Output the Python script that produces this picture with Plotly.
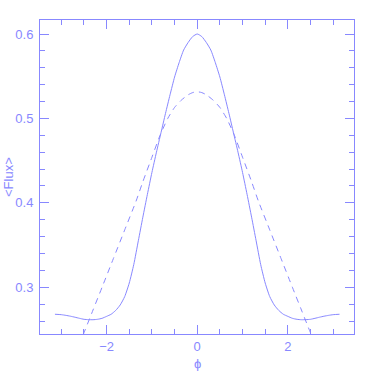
import plotly.graph_objects as go

# solid curve
phi_solid = [-3.14, -3.0, -2.9, -2.8, -2.7, -2.6, -2.5, -2.4, -2.3, -2.2, -2.1, -2.0,
             -1.9, -1.8, -1.7, -1.6, -1.5, -1.4, -1.3, -1.2, -1.1, -1.0, -0.9, -0.8,
             -0.7, -0.6, -0.5, -0.4, -0.3, -0.2, -0.1,
             0.0, 0.1, 0.2, 0.3, 0.4, 0.5, 0.6, 0.7, 0.8, 0.9, 1.0, 1.1, 1.2,
             1.3, 1.4, 1.5, 1.6, 1.7, 1.8, 1.9, 2.0, 2.1, 2.2, 2.3, 2.4, 2.5,
             2.6, 2.7, 2.8, 2.9, 3.0, 3.14]
flux_solid = [0.268, 0.2675, 0.2667, 0.2657, 0.2645, 0.2632, 0.262, 0.2616, 0.2615, 0.262, 0.2632, 0.2655,
              0.268, 0.2725, 0.279, 0.289, 0.305, 0.327, 0.355, 0.383, 0.410, 0.436, 0.460, 0.483,
              0.506, 0.528, 0.549, 0.566, 0.581, 0.590, 0.597,
              0.600, 0.597, 0.590, 0.581, 0.566, 0.549, 0.528, 0.506, 0.483, 0.460, 0.436, 0.410, 0.383,
              0.355, 0.327, 0.305, 0.289, 0.279, 0.2725, 0.268, 0.2655, 0.2632, 0.262, 0.2615, 0.2616, 0.262,
              0.2632, 0.2645, 0.2657, 0.2667, 0.2675, 0.268]

# dashed curve
phi_dashed = [-2.7, -2.5, -2.3, -2.1, -1.85, -1.6, -1.35, -1.2, -1.0, -0.82, -0.65, -0.5,
              -0.35, -0.2, -0.1, 0.0, 0.1, 0.2, 0.35, 0.5, 0.65, 0.82, 1.0, 1.2,
              1.35, 1.6, 1.85, 2.1, 2.3, 2.5, 2.7]
flux_dashed = [0.220, 0.246, 0.273, 0.300, 0.334, 0.368, 0.402, 0.425, 0.454, 0.480, 0.500, 0.513,
               0.5217, 0.528, 0.5306, 0.5316, 0.5306, 0.528, 0.5217, 0.513, 0.500, 0.480, 0.454, 0.425,
               0.402, 0.368, 0.334, 0.300, 0.273, 0.246, 0.220]

col = '#8888ff'
font = dict(family='Liberation Sans', size=13, color=col)

fig = go.Figure()
fig.add_trace(go.Scatter(x=phi_solid, y=flux_solid, mode='lines',
                         line=dict(color=col, width=1, shape='spline', smoothing=0.6)))
fig.add_trace(go.Scatter(x=phi_dashed, y=flux_dashed, mode='lines',
                         line=dict(color=col, width=1, dash='6px,5px', shape='spline', smoothing=0.6)))

axis_common = dict(
    showgrid=False, zeroline=False, showline=True, linecolor=col, linewidth=1,
    mirror='allticks', ticks='inside', tickcolor=col, ticklen=9, tickwidth=1,
    tickfont=font, automargin=False,
)
fig.update_xaxes(range=[-3.47, 3.46], dtick=2, tick0=0,
                 minor=dict(dtick=0.5, ticks='inside', ticklen=5, tickcolor=col),
                 **axis_common)
fig.update_yaxes(range=[0.2446, 0.6166], dtick=0.1, tick0=0, ticklabelstandoff=3,
                 minor=dict(dtick=0.02, ticks='inside', ticklen=5, tickcolor=col),
                 **axis_common)

# axis titles as annotations so they sit where the original puts them
fig.add_annotation(text='&lt;Flux&gt;', xref='paper', yref='paper', x=0, y=0.5,
                   xanchor='center', yanchor='middle', xshift=-32, textangle=-90,
                   showarrow=False, font=font)
fig.add_annotation(text='ϕ', xref='paper', yref='paper', x=0.5, y=0,
                   xanchor='center', yanchor='middle', yshift=-29,
                   showarrow=False, font=font)

fig.update_layout(width=374, height=374, showlegend=False,
                  margin=dict(l=40, r=20, t=20, b=40),
                  plot_bgcolor='white', paper_bgcolor='white')
# drop the default body margin so the figure starts at the page corner
fig.write_html("out.html", config={'displayModeBar': False},
               post_script="document.body.style.margin='0px';")
